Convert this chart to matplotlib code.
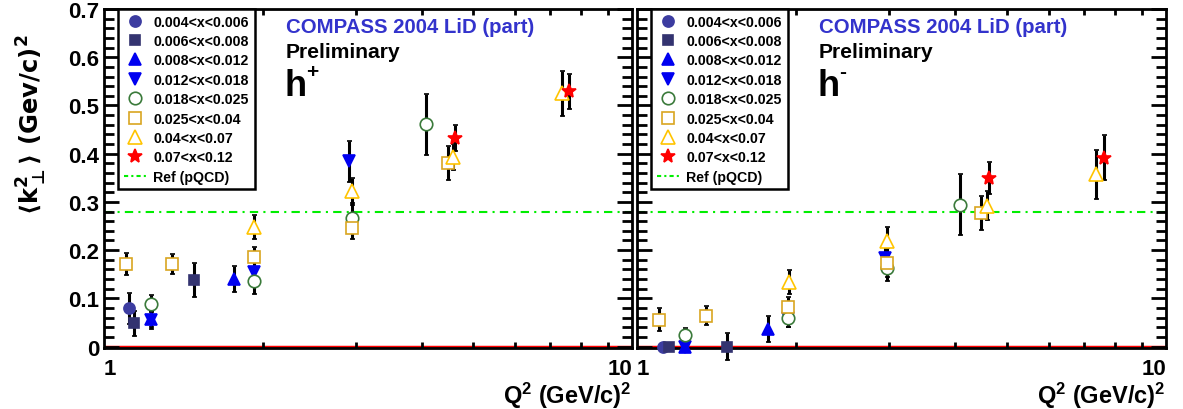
"""<k_perp^2> vs Q^2 per x bin, h+ and h- (COMPASS 2004 LiD)."""

import matplotlib
matplotlib.use("Agg")
import matplotlib.pyplot as plt
from matplotlib.lines import Line2D
from matplotlib.ticker import FixedLocator, MultipleLocator, NullFormatter

plt.rcParams["font.family"] = ["Liberation Sans", "DejaVu Sans"]
plt.rcParams["font.weight"] = "bold"
plt.rcParams["mathtext.fontset"] = "custom"
plt.rcParams["mathtext.rm"] = "Liberation Sans:bold"
plt.rcParams["mathtext.it"] = "Liberation Sans:bold"
plt.rcParams["mathtext.bf"] = "Liberation Sans:bold"

x_bins = ["0.004<x<0.006", "0.006<x<0.008", "0.008<x<0.012", "0.012<x<0.018",
          "0.018<x<0.025", "0.025<x<0.04", "0.04<x<0.07", "0.07<x<0.12"]
ref_pqcd = 0.28

# h+ : one list per x bin
hplus_q2 = [[1.115], [1.14, 1.48], [1.225, 1.76], [1.225, 1.92, 2.91],
            [1.227, 1.92, 2.95, 4.07], [1.10, 1.345, 1.92, 2.95, 4.49],
            [1.92, 2.95, 4.58, 7.37], [4.62, 7.61]]
hplus_k2 = [[0.079], [0.048, 0.138], [0.058, 0.141], [0.055, 0.155, 0.384],
            [0.089, 0.136, 0.267, 0.461], [0.171, 0.171, 0.186, 0.245, 0.380],
            [0.248, 0.322, 0.393, 0.525], [0.432, 0.529]]
hplus_err = [[0.033], [0.026, 0.035], [0.018, 0.027], [0.018, 0.020, 0.043],
             [0.018, 0.026, 0.030, 0.063], [0.023, 0.020, 0.020, 0.022, 0.035],
             [0.024, 0.028, 0.027, 0.047], [0.027, 0.037]]

# h- : one list per x bin
hminus_q2 = [[1.12], [1.15, 1.48], [1.23, 1.77], [1.23, 1.93, 2.94],
             [1.23, 1.93, 2.97, 4.08], [1.10, 1.35, 1.93, 2.97, 4.47],
             [1.94, 2.97, 4.59, 7.38], [4.63, 7.62]]
hminus_k2 = [[0.0], [0.0, 0.0], [0.0, 0.037], [0.0, 0.060, 0.184],
             [0.023, 0.060, 0.163, 0.294], [0.056, 0.064, 0.083, 0.174, 0.277],
             [0.134, 0.219, 0.292, 0.357], [0.349, 0.392]]
hminus_err = [[0.005], [0.005, 0.028], [0.005, 0.027], [0.005, 0.020, 0.030],
              [0.015, 0.020, 0.028, 0.063], [0.024, 0.020, 0.020, 0.030, 0.036],
              [0.025, 0.029, 0.030, 0.051], [0.033, 0.046]]

# marker, colour, filled, size
styles = [("o", "#3c3ca0", True, 8), ("s", "#333370", True, 7.5),
          ("^", "#0000f0", True, 8.5), ("v", "#0000f0", True, 8.5),
          ("o", "#3a7a3a", False, 9), ("s", "#d9a520", False, 9),
          ("^", "#ffc400", False, 10), ("*", "#ff0000", True, 10)]

fig = plt.figure(figsize=(11.83, 4.10), dpi=100)
ax_l = fig.add_axes([104 / 1183, 61 / 410, 528 / 1183, 339 / 410])
ax_r = fig.add_axes([637 / 1183, 61 / 410, 529 / 1183, 339 / 410])


def draw_panel(ax, q2, k2, err, charge, show_ylabels):
    ax.axhline(0, color="#ff0000", lw=2.5, zorder=1)
    ax.axhline(ref_pqcd, color="#00ee00", lw=1.5, ls=(0, (4, 2.5, 1, 2.5)), zorder=1)
    for (m, c, filled, ms), q, k, e in zip(styles, q2, k2, err):
        ax.errorbar(q, k, yerr=e, fmt=m, ms=ms, mec=c, mfc=c if filled else "white",
                    mew=1.2, ecolor="black", elinewidth=2.2, capsize=1.8,
                    capthick=2.2, zorder=3, clip_on=False)
    ax.set_xscale("log")
    ax.set_xlim(1, 10)
    ax.set_ylim(-0.003, 0.7)
    ax.xaxis.set_major_locator(FixedLocator([1, 10]))
    ax.xaxis.set_minor_locator(FixedLocator([2, 3, 4, 5, 6, 7, 8, 9]))
    ax.xaxis.set_minor_formatter(NullFormatter())
    ax.set_xticklabels(["1", "10"])
    ax.yaxis.set_major_locator(MultipleLocator(0.1))
    ax.yaxis.set_minor_locator(MultipleLocator(0.02))
    ax.tick_params(which="both", direction="in", top=True, right=True, width=2)
    ax.tick_params(axis="y", which="major", length=11)
    ax.tick_params(axis="y", which="minor", length=7)
    ax.tick_params(axis="x", which="major", length=0, labelsize=16, pad=7)
    ax.tick_params(axis="x", which="minor", length=4)
    ax.tick_params(axis="y", labelsize=16, labelleft=show_ylabels)
    if show_ylabels:
        ax.set_yticks([0, 0.1, 0.2, 0.3, 0.4, 0.5, 0.6, 0.7])
        ax.set_yticklabels(["0", "0.1", "0.2", "0.3", "0.4", "0.5", "0.6", "0.7"])
    xl = ax.get_xticklabels()
    xl[0].set_ha("left")
    xl[-1].set_ha("right")
    for sp in ax.spines.values():
        sp.set_linewidth(2)

    handles = [Line2D([], [], marker=m, ls="none", ms=ms, mec=c,
                      mfc=c if filled else "white", mew=1.2)
               for m, c, filled, ms in styles]
    handles.append(Line2D([], [], color="#00ee00", lw=1.5, ls=(0, (2, 1.5, 1, 1.5))))
    leg = ax.legend(handles, x_bins + ["Ref (pQCD)"], loc="upper left",
                    bbox_to_anchor=(0.0265, 1.0), fontsize=10.2, frameon=True,
                    fancybox=False, framealpha=1, edgecolor="black",
                    handlelength=1.6, handletextpad=0.5, labelspacing=0.38,
                    borderpad=0.4, borderaxespad=0)
    leg.get_frame().set_linewidth(1.8)
    leg.set_zorder(5)

    ax.text(0.344, 0.947, "COMPASS 2004 LiD (part)", transform=ax.transAxes,
            color="#3333cc", fontsize=14.7, va="center", ha="left")
    ax.text(0.344, 0.876, "Preliminary", transform=ax.transAxes,
            color="black", fontsize=15.2, va="center", ha="left")
    ax.text(0.342, 0.745, "h", transform=ax.transAxes,
            color="black", fontsize=26, va="baseline", ha="left")
    ax.text(0.383, 0.80, charge, transform=ax.transAxes,
            color="black", fontsize=15, va="baseline", ha="left")
    ax.text(1.0, -0.138, r"Q$^{2}$ (GeV/c)$^{2}$", transform=ax.transAxes,
            fontsize=17, ha="right", va="center")


draw_panel(ax_l, hplus_q2, hplus_k2, hplus_err, "+", True)
draw_panel(ax_r, hminus_q2, hminus_k2, hminus_err, "-", False)

fig.text(0.027, 0.915,
         r"$\langle\mathbf{k}_{\bot}^{\mathbf{2}}\rangle\ \mathbf{(Gev/c)}^{\mathbf{2}}$",
         rotation=90, fontsize=17.5, fontweight="normal", ha="center", va="top",
         math_fontfamily="dejavusans")

fig.savefig("out.png", dpi=100)
